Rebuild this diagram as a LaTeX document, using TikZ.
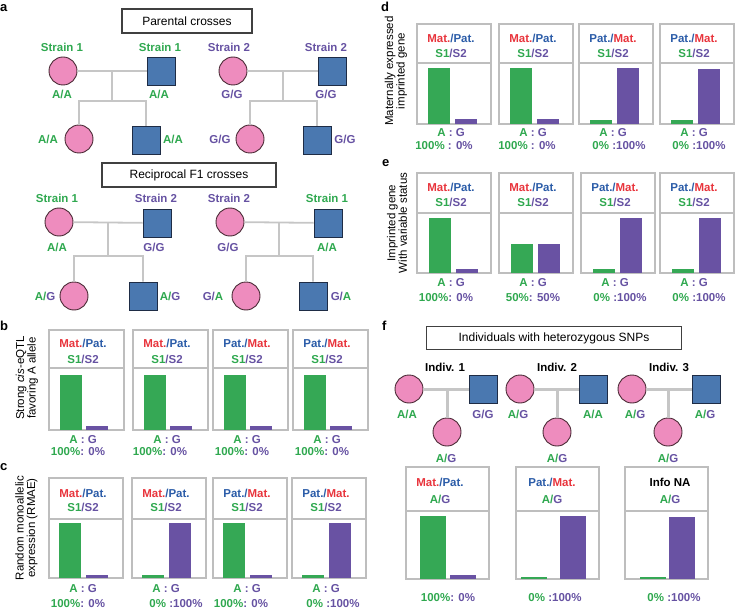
\documentclass[tikz,border=0pt]{standalone}
\usepackage{fontspec}
\setmainfont{Liberation Sans}
\definecolor{txtGreen}{HTML}{2FA84F}
\definecolor{txtPurple}{HTML}{6652A2}
\definecolor{txtRed}{HTML}{E8343C}
\definecolor{txtBlue}{HTML}{2B5CA8}
\definecolor{barGreen}{HTML}{35A855}
\definecolor{barPurple}{HTML}{6952A3}
\definecolor{pinkFill}{HTML}{EE8CBE}
\definecolor{pinkLine}{HTML}{4A2A35}
\definecolor{blueFill}{HTML}{4A78B0}
\definecolor{blueLine}{HTML}{1E2C45}
\definecolor{boxGrey}{HTML}{BEBEBE}
\definecolor{pedGrey}{HTML}{C6C6C6}
\newcommand{\txg}[1]{\textcolor{txtGreen}{#1}}
\newcommand{\txp}[1]{\textcolor{txtPurple}{#1}}
\newcommand{\txr}[1]{\textcolor{txtRed}{#1}}
\newcommand{\txb}[1]{\textcolor{txtBlue}{#1}}
\tikzset{
  lbl/.style={inner sep=0pt, font=\fontsize{11.5}{13}\selectfont\bfseries},
  letter/.style={inner sep=0pt, anchor=west, font=\fontsize{13}{15}\selectfont\bfseries},
  axlbl/.style={inner sep=0pt, rotate=90, align=center, font=\fontsize{11.5}{11.5}\selectfont},
  titlebox/.style={draw=black!75, line width=1.1, minimum height=24, inner sep=0pt, font=\fontsize{12}{14}\selectfont},
  female/.style={circle, draw=pinkLine, fill=pinkFill, line width=0.9, minimum size=28, inner sep=0pt},
  male/.style={rectangle, draw=blueLine, fill=blueFill, line width=0.9, minimum size=28, inner sep=0pt},
  pedline/.style={draw=pedGrey, line width=1.8},
  pedthick/.style={draw=pedGrey, line width=3},
  boxline/.style={draw=boxGrey, line width=1.6}
}
\begin{document}
\begin{tikzpicture}[x=1pt,y=-1pt]
  \useasboundingbox (0,0) rectangle (735,612);
  \node[letter] (la) at (0,8) {a};
  \node[letter] (lb) at (0,326) {b};
  \node[letter] (lc) at (0,467) {c};
  \node[letter] (ld) at (381,7) {d};
  \node[letter] (le) at (382,163) {e};
  \node[letter] (lf) at (382,326) {f};

  \node[titlebox, minimum width=130] (par) at (187,21) {Parental crosses};
  \node[lbl, text=txtGreen] (pst1) at (62,47) {Strain 1};
  \node[lbl, text=txtGreen] (pst2) at (160,47) {Strain 1};
  \node[lbl, text=txtPurple] (pst3) at (229,47) {Strain 2};
  \node[lbl, text=txtPurple] (pst4) at (326,47) {Strain 2};
  \node[female] (pm1) at (63,71) {};
  \node[male] (pf1) at (161,71) {};
  \node[female] (pm2) at (233,71) {};
  \node[male] (pf2) at (332,71) {};
  \node[female] (pc1) at (79,139) {};
  \node[male] (ps1) at (146,140) {};
  \node[female] (pc2) at (250,139) {};
  \node[male] (ps2) at (317,140) {};
  \node[lbl, text=txtGreen] (pg1) at (62,94) {A/A};
  \node[lbl, text=txtGreen] (pg2) at (159,94) {A/A};
  \node[lbl, text=txtPurple] (pg3) at (232,94) {G/G};
  \node[lbl, text=txtPurple] (pg4) at (326,94) {G/G};
  \node[lbl, text=txtGreen] (pg5) at (48,139) {A/A};
  \node[lbl, text=txtGreen] (pg6) at (173,139) {A/A};
  \node[lbl, text=txtPurple] (pg7) at (220,139) {G/G};
  \node[lbl, text=txtPurple] (pg8) at (345,139) {G/G};
  \coordinate (pk1) at (112,101);
  \coordinate (pk2) at (283,101);
  \draw[pedline] (pm1) -- (pf1) (pk1) -- (pk1 |- pm1) (pc1.north) |- (pk1) -| (ps1.north);
  \draw[pedline] (pm2) -- (pf2) (pk2) -- (pk2 |- pm2) (pc2.north) |- (pk2) -| (ps2.north);

  \node[titlebox, minimum width=174] (rec) at (189,175) {Reciprocal F1 crosses};
  \node[lbl, text=txtGreen] (rst1) at (57,198) {Strain 1};
  \node[lbl, text=txtPurple] (rst2) at (156,198) {Strain 2};
  \node[lbl, text=txtPurple] (rst3) at (229,198) {Strain 2};
  \node[lbl, text=txtGreen] (rst4) at (327,198) {Strain 1};
  \node[female] (rm1) at (59,222) {};
  \node[male] (rf1) at (157,223) {};
  \node[female] (rm2) at (230,222) {};
  \node[male] (rf2) at (328,223) {};
  \node[female] (rc1) at (74,296) {};
  \node[male] (rs1) at (143,296) {};
  \node[female] (rc2) at (246,296) {};
  \node[male] (rs2) at (313,296) {};
  \node[lbl, text=txtGreen] (rg1) at (57,247) {A/A};
  \node[lbl, text=txtPurple] (rg2) at (154,247) {G/G};
  \node[lbl, text=txtPurple] (rg3) at (228,247) {G/G};
  \node[lbl, text=txtGreen] (rg4) at (327,247) {A/A};
  \node[lbl] (rg5) at (45,296) {\txg{A/}\txp{G}};
  \node[lbl] (rg6) at (170,296) {\txg{A/}\txp{G}};
  \node[lbl] (rg7) at (213,296) {\txp{G/}\txg{A}};
  \node[lbl] (rg8) at (341,296) {\txp{G/}\txg{A}};
  \coordinate (rk1) at (108,256);
  \coordinate (rk2) at (279,256);
  \draw[pedline] (rm1) -- (rf1) (rk1) -- (rk1 |- rm1) (rc1.north) |- (rk1) -| (rs1.north);
  \draw[pedline] (rm2) -- (rf2) (rk2) -- (rk2 |- rm2) (rc2.north) |- (rk2) -| (rs2.north);

  \node[axlbl] (yb) at (27,378) {Strong \textit{cis}-eQTL\\favoring A allele};
  \foreach \bx/\hd/\gt/\pt/\pc/\po [count=\i] in {
      49/{\txr{Mat.}\txb{/Pat.}}/375/426/{\txg{100\%}\txp{: 0\%}}/29,
      133/{\txr{Mat.}\txb{/Pat.}}/375/426/{\txg{100\%}\txp{: 0\%}}/27,
      213/{\txb{Pat./}\txr{Mat.}}/375/426/{\txg{100\%}\txp{: 0\%}}/29,
      293/{\txb{Pat./}\txr{Mat.}}/375/426/{\txg{100\%}\txp{: 0\%}}/29}{
    \draw[boxline] (\bx,330) rectangle (\bx+75,430) (\bx,368) -- (\bx+75,368);
    \fill[barGreen] (\bx+11,\gt) rectangle (\bx+33,430);
    \fill[barPurple] (\bx+37,\pt) rectangle (\bx+59,430);
    \node[lbl] (bh\i) at (\bx+34,343) {\hd};
    \node[lbl] (bs\i) at (\bx+34,359) {\txg{S1}\txp{/S2}};
    \node[lbl] (ba\i) at (\bx+34,440) {\txg{A} \txp{: G}};
    \node[lbl] (bp\i) at (\bx+\po,452) {\pc};
  }

  \node[axlbl] (yc) at (26.5,528) {Random monoallelic\\expression (RMAE)};
  \foreach \bx/\hd/\gt/\pt/\pc/\po [count=\i] in {
      49/{\txr{Mat.}\txb{/Pat.}}/523/575/{\txg{100\%}\txp{: 0\%}}/29,
      132/{\txr{Mat.}\txb{/Pat.}}/575/523/{\txg{0\%} \txp{:100\%}}/44,
      213/{\txb{Pat./}\txr{Mat.}}/523/575/{\txg{100\%}\txp{: 0\%}}/28,
      292/{\txb{Pat./}\txr{Mat.}}/575/523/{\txg{0\%} \txp{:100\%}}/41}{
    \draw[boxline] (\bx,478) rectangle (\bx+74,578) (\bx,519) -- (\bx+74,519);
    \fill[barGreen] (\bx+10,\gt) rectangle (\bx+32,578);
    \fill[barPurple] (\bx+37,\pt) rectangle (\bx+59,578);
    \node[lbl] (ch\i) at (\bx+34,493) {\hd};
    \node[lbl] (cs\i) at (\bx+34,507) {\txg{S1}\txp{/S2}};
    \node[lbl] (ca\i) at (\bx+34,589) {\txg{A} \txp{: G}};
    \node[lbl] (cp\i) at (\bx+\po,604) {\pc};
  }

  \node[axlbl] (yd) at (396,71) {Maternally expressed\\imprinted gene};
  \foreach \bx/\hd/\gt/\pt/\pc/\po [count=\i] in {
      417/{\txr{Mat.}\txb{/Pat.}}/68/119/{\txg{100\%} \txp{: 0\%}}/27,
      499/{\txr{Mat.}\txb{/Pat.}}/68/119/{\txg{100\%} \txp{: 0\%}}/28,
      579/{\txb{Pat./}\txr{Mat.}}/120/68/{\txg{0\%} \txp{:100\%}}/40,
      660/{\txb{Pat./}\txr{Mat.}}/120/69/{\txg{0\%} \txp{:100\%}}/39}{
    \draw[boxline] (\bx,24) rectangle (\bx+74,124) (\bx,63) -- (\bx+74,63);
    \fill[barGreen] (\bx+11,\gt) rectangle (\bx+33,124);
    \fill[barPurple] (\bx+38,\pt) rectangle (\bx+60,124);
    \node[lbl] (dh\i) at (\bx+34,38) {\hd};
    \node[lbl] (ds\i) at (\bx+34,53) {\txg{S1}\txp{/S2}};
    \node[lbl] (da\i) at (\bx+34,133) {\txg{A} \txp{: G}};
    \node[lbl] (dp\i) at (\bx+\po,146) {\pc};
  }

  \node[axlbl] (ye) at (397,223) {Imprinted gene\\With variable status};
  \foreach \bx/\hd/\gt/\pt/\pc/\po [count=\i] in {
      417/{\txr{Mat.}\txb{/Pat.}}/218/269/{\txg{100\%}\txp{: 0\%}}/29,
      499/{\txr{Mat.}\txb{/Pat.}}/244/244/{\txg{50\%}\txp{: 50\%}}/34,
      581/{\txb{Pat./}\txr{Mat.}}/269/218/{\txg{0\%} \txp{:100\%}}/39,
      660/{\txb{Pat./}\txr{Mat.}}/269/218/{\txg{0\%} \txp{:100\%}}/39}{
    \draw[boxline] (\bx,173) rectangle (\bx+74,273) (\bx,213) -- (\bx+74,213);
    \fill[barGreen] (\bx+12,\gt) rectangle (\bx+34,273);
    \fill[barPurple] (\bx+39,\pt) rectangle (\bx+61,273);
    \node[lbl] (eh\i) at (\bx+34,187) {\hd};
    \node[lbl] (es\i) at (\bx+34,202) {\txg{S1}\txp{/S2}};
    \node[lbl] (ea\i) at (\bx+34,283) {\txg{A} \txp{: G}};
    \node[lbl] (ep\i) at (\bx+\po,298) {\pc};
  }

  \node[titlebox, minimum width=255, minimum height=23] (ind) at (554,338) {Individuals with heterozygous SNPs};
  \node[lbl] (iv1) at (445,367) {Indiv. 1};
  \node[lbl] (iv2) at (557,367) {Indiv. 2};
  \node[lbl] (iv3) at (669,367) {Indiv. 3};
  \node[female] (fm1) at (409,389) {};
  \node[male] (ff1) at (483,389) {};
  \node[female] (fm2) at (520,389) {};
  \node[male] (ff2) at (593,389) {};
  \node[female] (fm3) at (632,389) {};
  \node[male] (ff3) at (706,389) {};
  \node[female] (fc1) at (447,432) {};
  \node[female] (fc2) at (557,432) {};
  \node[female] (fc3) at (668,432) {};
  \node[lbl, text=txtGreen] (fg1) at (407,414) {A/A};
  \node[lbl, text=txtPurple] (fg2) at (483,414) {G/G};
  \node[lbl] (fg3) at (518,414) {\txg{A/}\txp{G}};
  \node[lbl, text=txtGreen] (fg4) at (593,414) {A/A};
  \node[lbl] (fg5) at (635,414) {\txg{A/}\txp{G}};
  \node[lbl] (fg6) at (705,414) {\txg{A/}\txp{G}};
  \node[lbl] (fg7) at (446,458) {\txg{A/}\txp{G}};
  \node[lbl] (fg8) at (557,458) {\txg{A/}\txp{G}};
  \node[lbl] (fg9) at (668,458) {\txg{A/}\txp{G}};
  \draw[pedthick] (fm1) -- (ff1) (fc1) -- (fc1 |- fm1);
  \draw[pedthick] (fm2) -- (ff2) (fc2) -- (fc2 |- fm2);
  \draw[pedthick] (fm3) -- (ff3) (fc3) -- (fc3 |- fm3);
  \foreach \bx/\hd/\hx/\gx/\gt/\pt/\pc/\po [count=\i] in {
      406/{\txr{Mat.}\txb{/Pat.}}/34/14/516/575/{\txg{100\%}\txp{: 0\%}}/42,
      516/{\txb{Pat./}\txr{Mat.}}/36/5/577/516/{\txg{0\%} \txp{:100\%}}/39,
      625/{Info NA}/45/15/577/517/{\txg{0\%} \txp{:100\%}}/49}{
    \draw[boxline] (\bx,467) rectangle (\bx+83,579) (\bx,511) -- (\bx+83,511);
    \fill[barGreen] (\bx+\gx,\gt) rectangle (\bx+\gx+26,579);
    \fill[barPurple] (\bx+44,\pt) rectangle (\bx+70,579);
    \node[lbl] (fh\i) at (\bx+\hx,482) {\hd};
    \node[lbl] (fs\i) at (\bx+\hx,499) {\txg{A/}\txp{G}};
    \node[lbl] (fp\i) at (\bx+\po,598) {\pc};
  }
\end{tikzpicture}
\end{document}
